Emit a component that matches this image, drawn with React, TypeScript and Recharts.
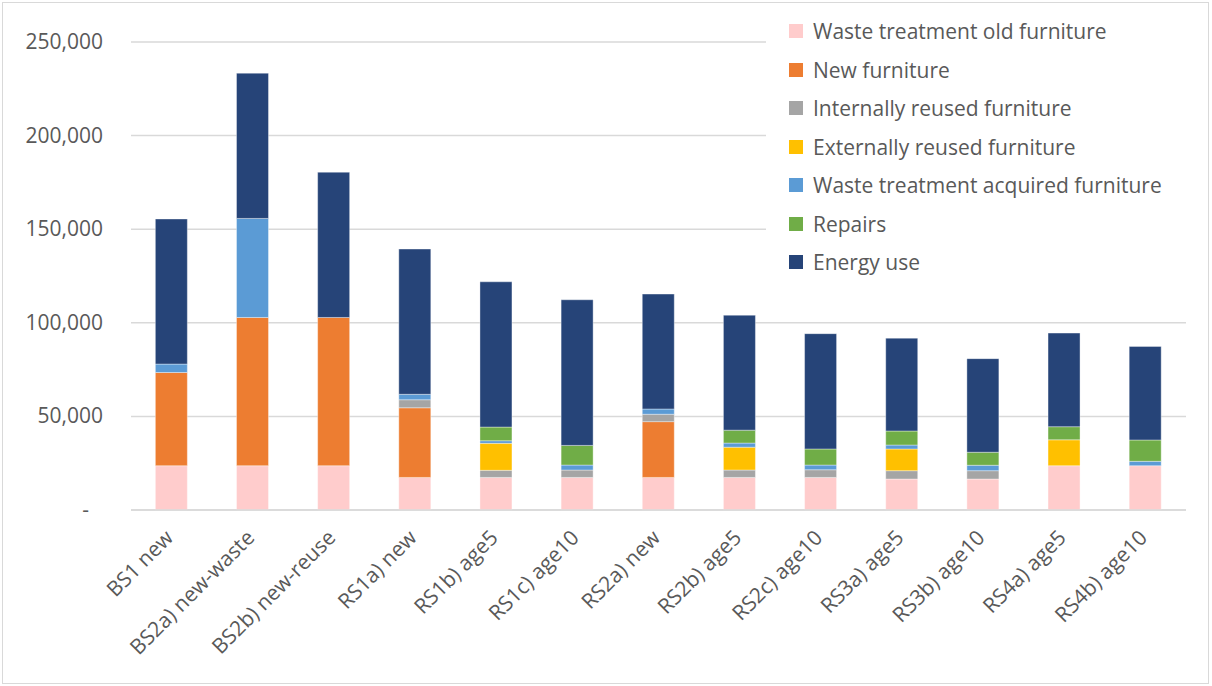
import { BarChart, Bar, XAxis, YAxis, CartesianGrid } from 'recharts';

const categories = [
    'BS1 new', 'BS2a) new-waste', 'BS2b) new-reuse', 'RS1a) new', 'RS1b) age5', 'RS1c) age10',
    'RS2a) new', 'RS2b) age5', 'RS2c) age10', 'RS3a) age5', 'RS3b) age10', 'RS4a) age5', 'RS4b) age10',
];

const wasteOld = [23650, 23650, 23650, 17400, 17400, 17400, 17400, 17400, 17400, 16550, 16550, 23650, 23650];
const newFurniture = [49800, 79200, 79200, 37200, 0, 0, 29800, 0, 0, 0, 0, 0, 0];
const internalReuse = [0, 0, 0, 4300, 3800, 3950, 3950, 3950, 4100, 4450, 4450, 0, 0];
const externalReuse = [0, 0, 0, 0, 14400, 0, 0, 12200, 0, 11600, 0, 13850, 0];
const wasteAcquired = [4500, 52900, 0, 2900, 1400, 2650, 2800, 2200, 2500, 2100, 2900, 0, 2350];
const repairs = [0, 0, 0, 0, 7300, 10500, 0, 6900, 8600, 7500, 6950, 7000, 11400];
const energyUse = [77500, 77600, 77600, 77600, 77600, 77800, 61400, 61400, 61600, 49600, 50000, 50000, 50000];

const yTicks = [0, 50000, 100000, 150000, 200000, 250000];

const series = [
    { key: 'wasteOld', name: 'Waste treatment old furniture', color: '#FFCCCC', values: wasteOld },
    { key: 'newFurniture', name: 'New furniture', color: '#ED7D31', values: newFurniture },
    { key: 'internalReuse', name: 'Internally reused furniture', color: '#A5A5A5', values: internalReuse },
    { key: 'externalReuse', name: 'Externally reused furniture', color: '#FFC000', values: externalReuse },
    { key: 'wasteAcquired', name: 'Waste treatment acquired furniture', color: '#5B9BD5', values: wasteAcquired },
    { key: 'repairs', name: 'Repairs', color: '#70AD47', values: repairs },
    { key: 'energyUse', name: 'Energy use', color: '#264478', values: energyUse },
];

const data = categories.map((name, i) => {
    const row: Record<string, string | number> = { name };
    series.forEach((s) => { row[s.key] = s.values[i]; });
    return row;
});

const FONT = '"Open Sans", sans-serif';
const TEXT = '#595959';
const FS = 21;

const YTick = ({ x, y, payload }: any) => {
    const v = payload.value as number;
    const label = v === 0 ? '-' : v.toLocaleString('en-US');
    return (
        <text x={v === 0 ? x - 14 : x} y={y} dy={7} textAnchor="end" fill={TEXT} fontSize={FS} fontFamily={FONT}>
            {label}
        </text>
    );
};

const XTick = ({ x, y, payload }: any) => (
    <g transform={`translate(${x + 3},${y + 29})`}>
        <text textAnchor="end" transform="rotate(-45)" fill={TEXT} fontSize={FS} fontFamily={FONT}>
            {payload.value}
        </text>
    </g>
);

// legend sits over the plot's top right, white box hides the gridlines behind it
const ChartLegend = () => (
    <div style={{ position: 'absolute', left: 766, top: 3, background: '#fff', width: 440, height: 282 }}>
        {series.map((s, i) => (
            <div key={s.key} style={{ position: 'absolute', left: 23, top: 28 + i * 38.5 - 14, height: 28, display: 'flex', alignItems: 'center' }}>
                <span style={{ display: 'inline-block', width: 14, height: 14, background: s.color, marginRight: 10 }} />
                <span style={{ fontFamily: FONT, fontSize: FS, color: TEXT, whiteSpace: 'nowrap' }}>{s.name}</span>
            </div>
        ))}
    </div>
);

export default function App() {
    return (
        <div style={{ position: 'absolute', left: 0, top: 0, width: 1212, height: 686, background: '#fff' }}>
            <div style={{ position: 'absolute', left: 2, top: 2, width: 1205, height: 680, border: '1px solid #d9d9d9' }} />
            <div style={{ position: 'absolute', left: 0, top: 0 }}>
                <BarChart width={1212} height={686} data={data} margin={{ top: 42, right: 26, bottom: 0, left: 0 }} barCategoryGap="30%">
                    <CartesianGrid vertical={false} stroke="#d9d9d9" strokeWidth={1.5} />
                    <XAxis
                        dataKey="name"
                        interval={0}
                        tick={<XTick />}
                        tickLine={false}
                        tickSize={0}
                        tickMargin={0}
                        axisLine={{ stroke: '#d9d9d9', strokeWidth: 1.5 }}
                        height={176}
                    />
                    <YAxis
                        domain={[0, 250000]}
                        ticks={yTicks}
                        tick={<YTick />}
                        tickLine={false}
                        axisLine={false}
                        tickSize={0}
                        tickMargin={28}
                        width={131}
                    />
                    {series.map((s) => (
                        <Bar
                            key={s.key}
                            dataKey={s.key}
                            name={s.name}
                            stackId="a"
                            fill={s.color}
                            stroke="#ffffff"
                            strokeOpacity={0.5}
                            strokeWidth={0.75}
                            isAnimationActive={false}
                        />
                    ))}
                </BarChart>
            </div>
            <ChartLegend />
        </div>
    );
}
